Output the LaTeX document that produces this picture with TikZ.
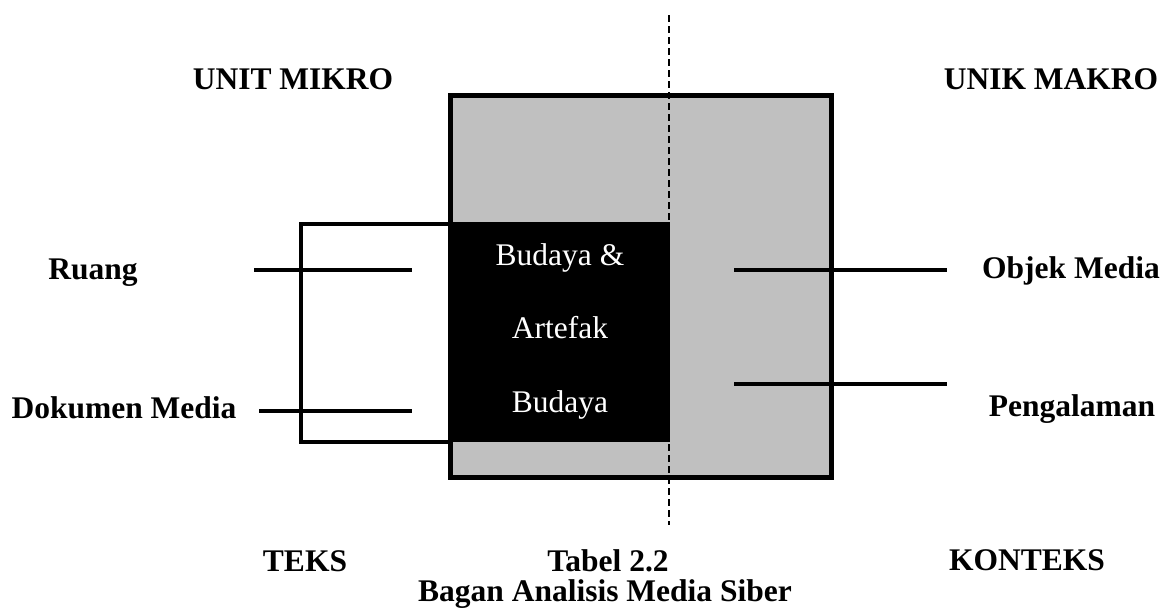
\documentclass[tikz,border=0pt]{standalone}
\usepackage{fontspec}
\setmainfont{Liberation Serif}
\usepackage{tikz}

\definecolor{framegray}{RGB}{192,192,192}

\begin{document}
\begin{tikzpicture}[%
        x = 1pt,
        y = -1pt,
        boldtext/.style = {%
            anchor = base,
            inner sep = 0pt,
            font = \bfseries\fontsize{31.5}{36}\selectfont
        },
        coretext/.style = {%
            anchor = base,
            inner sep = 0pt,
            text = white,
            font = \fontsize{31.5}{36}\selectfont
        }
    ]

        \useasboundingbox (0, 0) rectangle (1164, 608);

        % Corners of the grey frame and of the black core.
        \coordinate (G1) at (450, 95);
        \coordinate (G2) at (831, 477);
        \coordinate (K1) at (450, 222);
        \coordinate (K2) at (670, 442);

        % Corners of the open bracket on the left.
        \coordinate (B1) at (450, 224);
        \coordinate (B2) at (301, 224);
        \coordinate (B3) at (301, 442);
        \coordinate (B4) at (450, 442);

        % End points of the short lines and of the dashed divider.
        \coordinate (R1) at (254, 270);
        \coordinate (R2) at (412, 270);
        \coordinate (D1) at (259, 411);
        \coordinate (D2) at (412, 411);
        \coordinate (O1) at (734, 270);
        \coordinate (O2) at (947, 270);
        \coordinate (P1) at (734, 384);
        \coordinate (P2) at (947, 384);
        \coordinate (T) at (669, 15);
        \coordinate (U) at (669, 525);

        % Draw the grey frame.
        \draw[fill = framegray, line width = 5pt] (G1) rectangle (G2);

        % Draw the black core with its three lines of text.
        \fill[black] (K1) rectangle (K2);
        \node[coretext] (budaya) at (560, 265) {Budaya \&};
        \node[coretext] (artefak) at (560, 338) {Artefak};
        \node[coretext] (budayab) at (560, 412) {Budaya};

        % Draw the open bracket.
        \draw[line width = 4pt] (B1) -- (B2) -- (B3) -- (B4);

        % Draw the short lines.
        \draw[line width = 4pt] (R1) -- (R2);
        \draw[line width = 4pt] (D1) -- (D2);
        \draw[line width = 4pt] (O1) -- (O2);
        \draw[line width = 4pt] (P1) -- (P2);

        % Draw the dashed divider.
        \draw[line width = 2.5pt, dash pattern = on 7pt off 4pt] (T) -- (U);

        % Add the labels round the frame.
        \node[boldtext] (mikro) at (293, 89) {UNIT MIKRO};
        \node[boldtext] (makro) at (1051, 89) {UNIK MAKRO};
        \node[boldtext] (ruang) at (93, 279) {Ruang};
        \node[boldtext] (dokumen) at (124, 418) {Dokumen Media};
        \node[boldtext] (objek) at (1071, 278) {Objek Media};
        \node[boldtext] (pengalaman) at (1072, 416) {Pengalaman};
        \node[boldtext] (teks) at (305, 571) {TEKS};
        \node[boldtext] (tabel) at (608, 571) {Tabel 2.2};
        \node[boldtext] (bagan) at (605, 601) {Bagan Analisis Media Siber};
        \node[boldtext] (konteks) at (1027, 570) {KONTEKS};
    \end{tikzpicture}
\end{document}
